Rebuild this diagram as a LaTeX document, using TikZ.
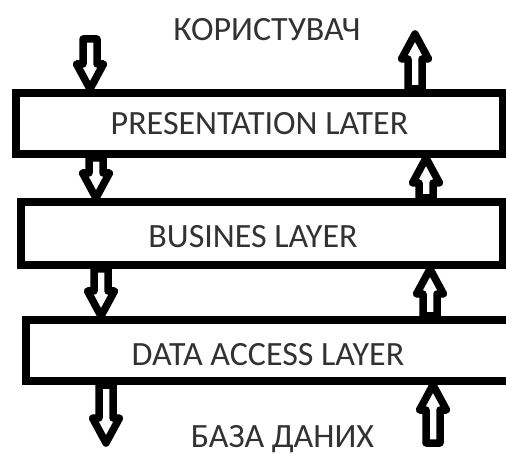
\documentclass[tikz,border=0pt]{standalone}
\usepackage{fontspec}
\setmainfont{Carlito}
\usetikzlibrary{calc}

\definecolor{ink}{RGB}{50,50,50}

% geometry of the hollow block arrows
\newcommand\shaftw{7}
\newcommand\headw{13.5}
\newcommand\headlen{25pt}

% hollow block arrow from tail #1 to tip #2 (vertical)
\newcommand\hollowarrow[2]{%
  \coordinate (ha-t) at (#1);
  \coordinate (ha-p) at (#2);
  \coordinate (ha-b) at ($(ha-p)!\headlen!(ha-t)$);
  \draw[blockarrow]
    ($(ha-t)+(-\shaftw,0)$) -- ($(ha-b)+(-\shaftw,0)$) -- ($(ha-b)+(-\headw,0)$)
    -- (ha-p)
    -- ($(ha-b)+(\headw,0)$) -- ($(ha-b)+(\shaftw,0)$) -- ($(ha-t)+(\shaftw,0)$) -- cycle;}

\tikzset{
  layer/.style={draw=black, line width=8pt, rectangle, inner sep=0pt},
  blockarrow/.style={draw=black, line width=7.5pt, line join=round},
  lbl/.style={text=ink, anchor=base, inner sep=0pt,
              font=\fontsize{34}{40}\selectfont},
}

\begin{document}
\begin{tikzpicture}[x=1pt, y=-1pt]
  \clip (0,0) rectangle (506,454);
  \fill[white] (0,0) rectangle (506,454);

  % the three layers
  \node[layer, minimum width=487, minimum height=61] (pres) at (259.5,123.5) {};
  \node[layer, minimum width=482, minimum height=63] (bus)  at (261.5,233.5) {};
  \node[layer, minimum width=494, minimum height=61] (data) at (273,350.5) {};

  % texts
  \node[lbl] (user)   at (267,41)  {КОРИСТУВАЧ};
  \node[lbl] (pres-t) at (259.5,135) {PRESENTATION LATER};
  \node[lbl] (bus-t)  at (253,248) {BUSINES LAYER};
  \node[lbl] (data-t) at (268,365) {DATA ACCESS LAYER};
  \node[lbl] (db)     at (282.5,447) {БАЗА ДАНИХ};

  % arrow columns and free ends
  \coordinate (d1) at (90,0);
  \coordinate (d2) at (96,0);
  \coordinate (d3) at (101,0);
  \coordinate (d4) at (106,0);
  \coordinate (u1) at (415,0);
  \coordinate (u2) at (426,0);
  \coordinate (u3) at (430,0);
  \coordinate (u4) at (433,0);
  \coordinate (in-top)  at (90,39);
  \coordinate (out-top) at (415,34);
  \coordinate (out-bot) at (106,443);
  \coordinate (in-bot)  at (433,443);

  % requests going down
  \hollowarrow{in-top}{pres.north -| d1}
  \hollowarrow{pres.south -| d2}{bus.north -| d2}
  \hollowarrow{bus.south -| d3}{data.north -| d3}
  \hollowarrow{data.south -| d4}{out-bot}

  % responses going up
  \hollowarrow{in-bot}{data.south -| u4}
  \hollowarrow{data.north -| u3}{bus.south -| u3}
  \hollowarrow{bus.north -| u2}{pres.south -| u2}
  \hollowarrow{pres.north -| u1}{out-top}
\end{tikzpicture}
\end{document}
